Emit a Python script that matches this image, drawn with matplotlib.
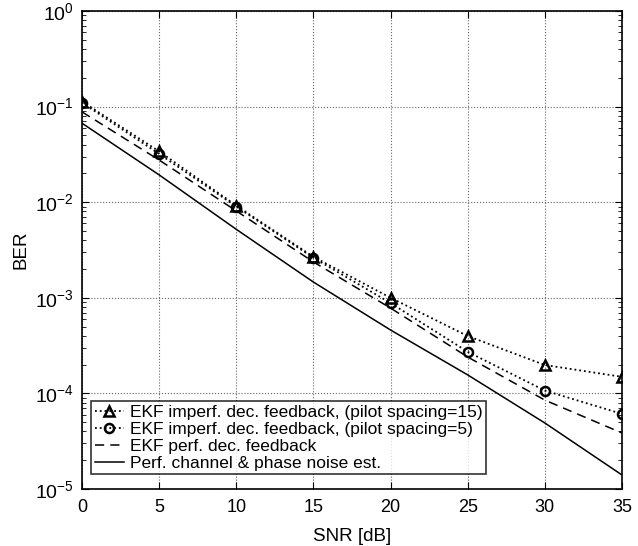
import matplotlib
matplotlib.use("Agg")
import matplotlib.pyplot as plt
from matplotlib.ticker import LogLocator, NullFormatter

plt.rcParams['font.family'] = ['Liberation Sans', 'DejaVu Sans']
plt.rcParams['mathtext.fontset'] = 'custom'
plt.rcParams['mathtext.rm'] = 'Liberation Sans'
plt.rcParams['mathtext.it'] = 'Liberation Sans'

# SNR en dB
snr = [0, 5, 10, 15, 20, 25, 30, 35]

# BER
ber_pilot15 = [0.113, 0.034, 0.0092, 0.00268, 0.00100, 0.000398, 0.000198, 0.000149]
ber_pilot5 = [0.110, 0.032, 0.0090, 0.00262, 0.00088, 0.000272, 0.000107, 0.000061]
ber_perf_fb = [0.088, 0.0276, 0.0081, 0.00237, 0.00078, 0.000240, 0.000085, 0.0000385]
ber_perf_est = [0.067, 0.0193, 0.0052, 0.00146, 0.00046, 0.000156, 0.000049, 0.0000140]

labels = ['EKF imperf. dec. feedback, (pilot spacing=15)',
          'EKF imperf. dec. feedback, (pilot spacing=5)',
          'EKF perf. dec. feedback',
          'Perf. channel & phase noise est.']

fig = plt.figure(figsize=(6.38, 5.46), dpi=100)
ax = fig.add_axes([0.1285, 0.1044, 0.8465, 0.8755])

ax.semilogy(snr, ber_pilot15, ':', color='black', marker='^', markersize=7,
            markerfacecolor='none', markeredgewidth=1.8, linewidth=1.3, label=labels[0])
ax.semilogy(snr, ber_pilot5, ':', color='black', marker='o', markersize=6.5,
            markerfacecolor='none', markeredgewidth=1.8, linewidth=1.3, label=labels[1])
ax.semilogy(snr, ber_perf_fb, '--', color='black', linewidth=1.1,
            dashes=(6, 4), label=labels[2])
ax.semilogy(snr, ber_perf_est, '-', color='black', linewidth=1.1, label=labels[3])

ax.set_xlim(0, 35)
ax.set_ylim(1e-5, 1)
ax.set_xticks(snr)
ax.yaxis.set_major_locator(LogLocator(base=10, numticks=10))
ax.yaxis.set_minor_locator(LogLocator(base=10, subs=range(2, 10), numticks=10))
ax.yaxis.set_minor_formatter(NullFormatter())

ax.grid(True, which='major', linestyle=':', color='#666666', linewidth=0.8)
ax.tick_params(which='both', direction='in', top=True, right=True, labelsize=13)
ax.tick_params(axis='x', which='major', length=5, pad=7)
ax.tick_params(axis='y', which='major', length=5, pad=6, labelsize=14)
ax.tick_params(which='minor', length=3)
for s in ax.spines.values():
    s.set_linewidth(1.2)

ax.set_xlabel('SNR [dB]', fontsize=13.5, labelpad=9)
ax.set_ylabel('BER', fontsize=13.5, labelpad=4)

leg = ax.legend(loc='lower left', bbox_to_anchor=(0.017, 0.031), fontsize=12.5,
                frameon=True, fancybox=False, edgecolor='black', handlelength=1.7,
                handletextpad=0.35, borderpad=0.2, labelspacing=0.1, borderaxespad=0)
leg.get_frame().set_linewidth(1.2)

fig.savefig('out.png', dpi=100)
